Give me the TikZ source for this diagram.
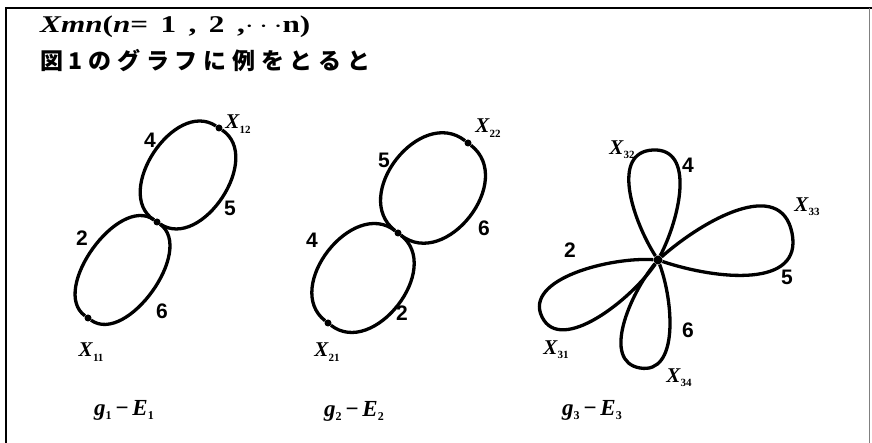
\documentclass[tikz,border=0pt]{standalone}
\usepackage{fontspec}
\setmainfont{Liberation Serif}
\newfontfamily\digitfont{Liberation Sans}
\newfontfamily\jpfont[LetterSpace=25]{Noto Sans CJK JP}
\newcommand\xsub[1]{\textbf{\textit{X}}\raisebox{-0.45ex}{\fontsize{11}{11}\selectfont\bfseries #1}}
\newcommand\gsub[2]{\textbf{\textit{#1}}\raisebox{-0.45ex}{\fontsize{12}{12}\selectfont\bfseries #2}}

\begin{document}
\begin{tikzpicture}[x=1pt,y=1pt,
  lp/.style={line width=3.3pt},
  vdot/.style={circle,fill,inner sep=0pt,minimum size=7pt},
  num/.style={font=\digitfont\bfseries\fontsize{21}{21}\selectfont},
  xl/.style={font=\fontsize{21}{21}\selectfont},
  captext/.style={font=\fontsize{23}{23}\selectfont}]
  \useasboundingbox (0,0) rectangle (872,443);
  \draw[line width=1.5pt] (6,0)--(6,435)--(872,435); \draw[line width=1pt,gray] (869,435)--(869,0);
  \node[anchor=west,inner sep=0pt,font=\fontsize{24}{24}\selectfont] (head) at (40,416) {\scalebox{1.3}[1]{\textbf{\textit{Xmn}}\textbf{(\textit{n}=\hspace{0.4em}1\hspace{0.4em},\hspace{0.4em}2\hspace{0.4em},$\cdots$n)}}};
  \node[anchor=west,inner sep=0pt,font=\jpfont\bfseries\fontsize{23}{23}\selectfont] (intro) at (40,382) {図1のグラフに例をとると};
  % g1
  \node[vdot] (j1) at (157,221) {}; \node[vdot] (v12) at (219,315) {}; \node[vdot] (v11) at (88,125) {};
  \draw[lp] (j1) to[out=146.6,in=146.6,looseness=1.13] (v12) to[out=-33.4,in=-33.4,looseness=1.13] (j1);
  \draw[lp] (v11) to[out=144.3,in=144.3,looseness=0.95] (j1) to[out=-35.7,in=-35.7,looseness=0.95] (v11);
  \node[num] at (150,303) {4}; \node[num] at (230,235) {5}; \node[num] at (82,205) {2}; \node[num] at (162,132) {6};
  \node[xl] at (238,319) {\xsub{12}}; \node[xl] at (91,91) {\xsub{11}};
  \node[captext] (c1) at (124,33) {\gsub{g}{1}\,\textbf{−}\,\gsub{E}{1}};
  % g2
  \node[vdot] (j2) at (398,210) {}; \node[vdot] (v22) at (468,300) {}; \node[vdot] (v21) at (328,120) {};
  \draw[lp] (j2) to[out=142.1,in=142.1,looseness=1.28] (v22) to[out=-37.9,in=-37.9,looseness=1.28] (j2);
  \draw[lp] (v21) to[out=142.1,in=142.1,looseness=1.21] (j2) to[out=-37.9,in=-37.9,looseness=1.21] (v21);
  \node[num] at (384,283) {5}; \node[num] at (484,215) {6}; \node[num] at (312,203) {4}; \node[num] at (402,130) {2};
  \node[xl] at (488,315) {\xsub{22}}; \node[xl] at (327,91) {\xsub{21}};
  \node[captext] (c2) at (354,32) {\gsub{g}{2}\,\textbf{−}\,\gsub{E}{2}};
  % g3
  \node[vdot,minimum size=9pt] (j3) at (658,183) {};
  \coordinate (t32) at (653,293); \coordinate (t33) at (792,210); \coordinate (t31) at (542,126); \coordinate (t34) at (640,75);
  \draw[lp] (j3) to[out=122.6,in=182.6,looseness=1.03] (t32) to[out=2.6,in=62.6,looseness=1.03] (j3);
  \draw[lp] (j3) to[out=41.4,in=101.4,looseness=1.1] (t33) to[out=-78.6,in=-18.6,looseness=1.1] (j3);
  \draw[lp] (j3) to[out=236.2,in=296.2,looseness=0.87] (t31) to[out=116.2,in=176.2,looseness=0.87] (j3);
  \draw[lp] (j3) to[out=290.5,in=350.5,looseness=0.96] (t34) to[out=170.5,in=230.5,looseness=0.96] (j3);
  \node[xl] at (622,293) {\xsub{32}}; \node[num] at (688,278) {4}; \node[xl] at (807,236) {\xsub{33}}; \node[num] at (787,166) {5};
  \node[num] at (570,193) {2}; \node[num] at (688,113) {6}; \node[xl] at (556,93) {\xsub{31}}; \node[xl] at (679,65) {\xsub{34}};
  \node[captext] (c3) at (592,33) {\gsub{g}{3}\,\textbf{−}\,\gsub{E}{3}};
\end{tikzpicture}
\end{document}
